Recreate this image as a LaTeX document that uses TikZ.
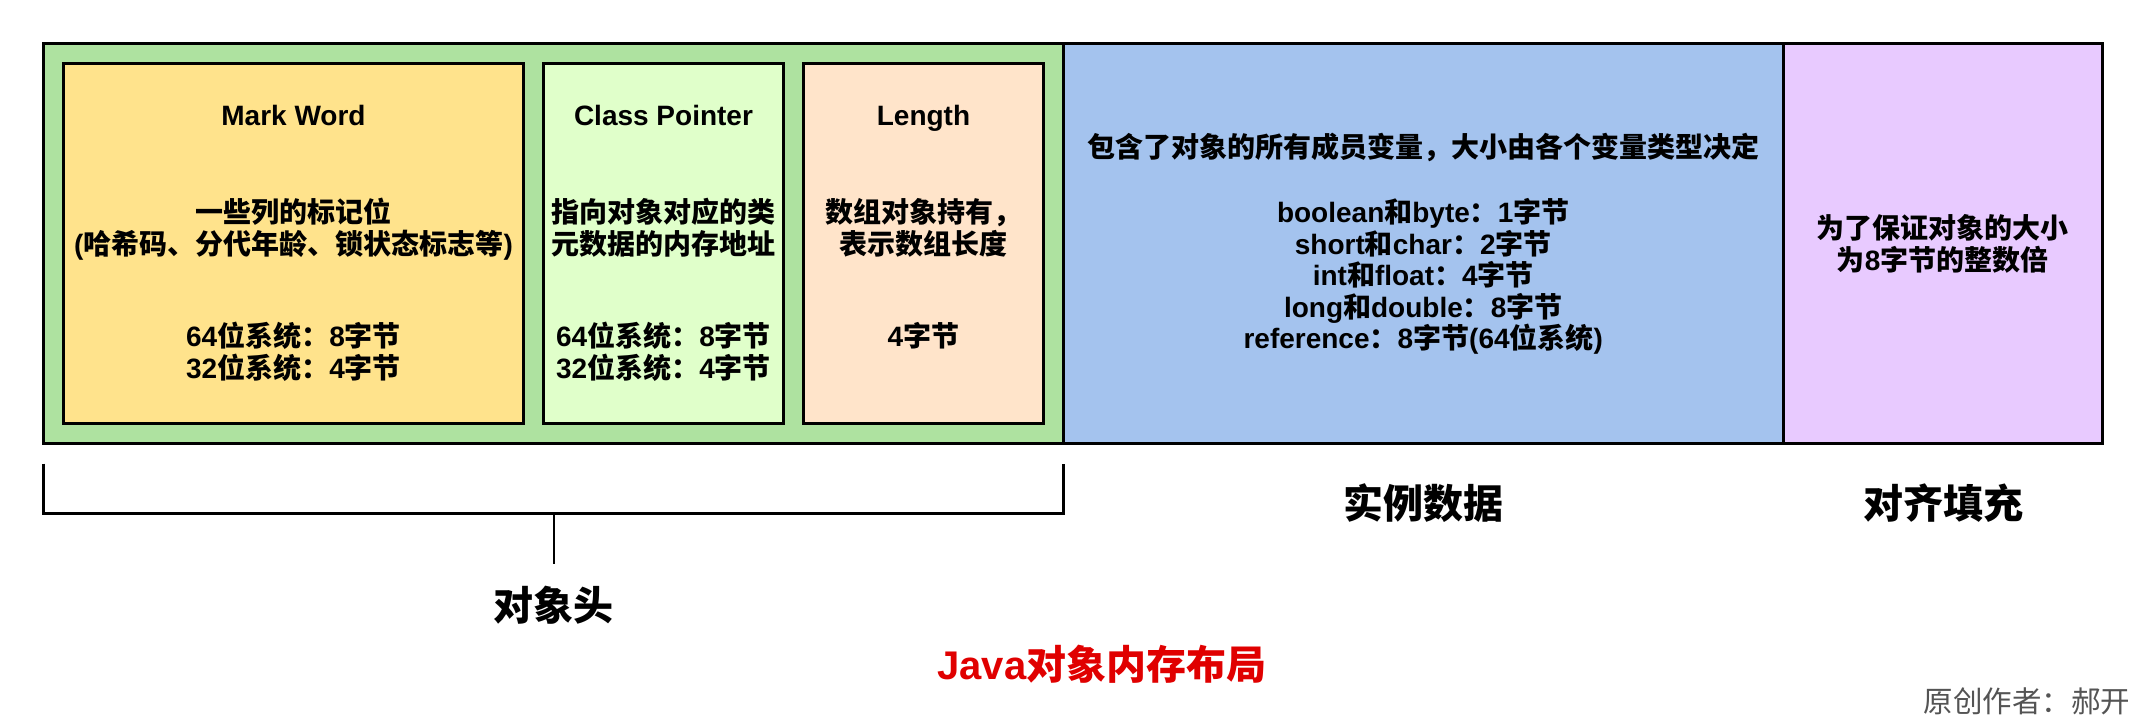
\documentclass[tikz,border=0pt]{standalone}
\usepackage{fontspec}
\setmainfont{Liberation Sans}
\newfontfamily\cjk{Noto Sans CJK SC}
\newcommand\zh[1]{{\cjk #1}}
\definecolor{hdgreen}{HTML}{AEE2A0}
\definecolor{mwyellow}{HTML}{FFE38C}
\definecolor{cpgreen}{HTML}{E0FFCA}
\definecolor{lnpeach}{HTML}{FFE4CA}
\definecolor{dtblue}{HTML}{A4C3EE}
\definecolor{pdpurple}{HTML}{E8CAFF}
\definecolor{titlered}{HTML}{E00000}
\tikzset{
  region/.style={draw=black,line width=3pt,outer sep=0pt,minimum height=400pt},
  field/.style={draw=black,line width=3pt,outer sep=0pt,minimum height=360pt,align=center,
    font=\bfseries\fontsize{28}{32}\selectfont},
  biglabel/.style={font=\cjk\bfseries\fontsize{40}{48}\selectfont},
  bracket/.style={line width=3pt,black},
  stem/.style={line width=2pt,black}
}
\begin{document}
\begin{tikzpicture}[x=1pt,y=-1pt]
  \useasboundingbox (0,0) rectangle (2144,726);
  % the three parts of an object
  \node[region,fill=hdgreen,minimum width=1020pt] (header) at (553.5,243.5) {};
  \node[region,fill=dtblue,minimum width=719.5pt,align=center,
    font=\bfseries\fontsize{28}{31.5}\selectfont] (data) at (1423.25,243.5)
    {\zh{包含了对象的所有成员变量，大小由各个变量类型决定}\\[34pt]
     boolean\zh{和}byte\zh{：}1\zh{字节}\\
     short\zh{和}char\zh{：}2\zh{字节}\\
     int\zh{和}float\zh{：}4\zh{字节}\\
     long\zh{和}double\zh{：}8\zh{字节}\\
     reference\zh{：}8\zh{字节}(64\zh{位系统})};
  \node[region,fill=pdpurple,minimum width=319.5pt,align=center,
    font=\bfseries\fontsize{28}{32}\selectfont] (padding) at (1942.75,243.5)
    {\zh{为了保证对象的大小}\\\zh{为}8\zh{字节的整数倍}};
  % fields of the header
  \node[field,fill=mwyellow,minimum width=460pt] (markword) at (293.5,243)
    {Mark Word\\[65pt]
     \zh{一些列的标记位}\\
     (\zh{哈希码、分代年龄、锁状态标志等})\\[60pt]
     64\zh{位系统：}8\zh{字节}\\
     32\zh{位系统：}4\zh{字节}};
  \node[field,fill=cpgreen,minimum width=240pt] (classptr) at (663.5,243)
    {Class Pointer\\[65pt]
     \zh{指向对象对应的类}\\
     \zh{元数据的内存地址}\\[60pt]
     64\zh{位系统：}8\zh{字节}\\
     32\zh{位系统：}4\zh{字节}};
  \node[field,fill=lnpeach,minimum width=240pt] (length) at (923.5,243)
    {Length\\[65pt]
     \zh{数组对象持有，}\\
     \zh{表示数组长度}\\[60pt]
     4\zh{字节}\\
     \zh{\phantom{字节}}};
  % bracket under the header
  \draw[bracket] ([yshift=-20pt]header.south west) -- ([yshift=-70pt]header.south west)
    -- ([yshift=-70pt]header.south east) -- ([yshift=-20pt]header.south east);
  \coordinate (stemtop) at ([yshift=-70pt]header.south);
  \coordinate (stembot) at ([yshift=-120pt]header.south);
  \draw[stem] (stemtop) -- (stembot);
  \node[biglabel] (headlabel) at (553,605) {对象头};
  \node[biglabel] (datalabel) at (1423,503) {实例数据};
  \node[biglabel] (padlabel) at (1943,503) {对齐填充};
  \node[font=\bfseries\fontsize{40}{48}\selectfont,text=titlered] (title) at (1102,664)
    {Java\zh{对象内存布局}};
  \node[anchor=east,font=\cjk\fontsize{29.5}{34}\selectfont,text=black!67] (author) at (2134,701)
    {原创作者：郝开};
\end{tikzpicture}
\end{document}
